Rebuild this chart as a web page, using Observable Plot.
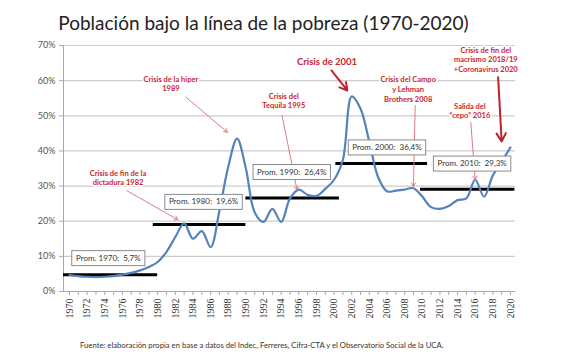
<!DOCTYPE html>
<html>
<head>
<meta charset="utf-8">
<script src="https://cdn.jsdelivr.net/npm/d3@7"></script>
<script src="https://cdn.jsdelivr.net/npm/@observablehq/plot@0.6"></script>
<style>
  body { margin:0; background:#fff; width:567px; height:357px; overflow:hidden; font-family: Lato, "Open Sans", sans-serif; }
  #title { position:absolute; left:0; top:13px; width:527px; text-align:center; font-size:19px; line-height:20px; color:#222; font-family: Lato, sans-serif; }
  #caption { position:absolute; left:80px; top:340px; font-size:7.7px; color:#333; white-space:nowrap; }
  #chart { position:absolute; left:0; top:38px; }
</style>
</head>
<body>
<div id="title">Población bajo la línea de la pobreza (1970-2020)</div>
<div id="chart"></div>
<div id="caption">Fuente: elaboración propia en base a datos del Indec, Ferreres, Cifra-CTA y el Observatorio Social de la UCA.</div>
<script>
// ---- data ----
const years = d3.range(1970, 2021);
const poverty = [
  4.7, 4.4, 4.2, 4.1, 4.2, 4.4, 4.8, 5.3, 6.0, 7.0,
  8.4, 11.3, 15.5, 19.4, 15.0, 17.2, 12.6, 23.0, 35.5, 43.5,
  35.0, 22.5, 19.8, 23.5, 19.8, 26.5, 29.0, 27.5, 27.2, 29.2,
  31.8, 37.5, 55.5, 52.0, 42.5, 32.5, 28.5, 28.7, 29.0, 29.4,
  27.0, 24.0, 23.5, 24.3, 26.0, 26.5, 31.8, 27.0, 33.0, 37.0,
  41.0
];
const yTicks = [0, 10, 20, 30, 40, 50, 60, 70];

// decade averages
const avgLabels = ["Prom. 1970:\u00a0 5,7%", "Prom. 1980:\u00a0 19,6%", "Prom. 1990:\u00a0 26,4%", "Prom. 2000:\u00a0 36,4%", "Prom. 2010:\u00a0 29,3%"];
const avgLevel = [4.8, 19.1, 26.6, 36.4, 29.1];
const avgStart = [1969.32, 1979.5, 1990.0, 2000.2, 2009.8];
const avgEnd = [1980.0, 1990.0, 2000.6, 2010.6, 2020.5];
const avgBoxX = [1974.4, 1985.2, 1995.2, 2006.0, 2015.65];
const avgBoxY = [9.5, 25.5, 34.0, 41.0, 36.4];

// crisis annotations
const annTexts = ["Crisis de fin de la\ndictadura 1982", "Crisis de la hiper\n1989", "Crisis del\nTequila 1995", "Crisis de 2001", "Crisis del Campo\ny Lehman\nBrothers 2008", "Salida del\n“cepo” 2016", "Crisis de fin del\nmacrismo 2018/19\n+Coronavirus 2020"];
const annX = [1975.5, 1981.5, 1994.3, 1999.2, 2008.4, 2015.4, 2017.2];
const annY = [32.5, 59.2, 54.4, 65.5, 57.7, 51.5, 66.1];
const annBig = [false, false, false, true, false, false, true];
const arrX1 = [1976.5, 1983.2, 1994.1, 1999.7, 2009.2, 2015.5, 2018.6];
const arrY1 = [28.7, 55.3, 50.1, 62.9, 52.9, 48.1, 61.0];
const arrX2 = [1982.3, 1987.9, 1995.8, 2001.5, 2009.0, 2016.0, 2019.0];
const arrY2 = [20.4, 45.3, 28.9, 57.2, 29.9, 31.8, 42.7];

// ---- tables ----
const series = years.map((y, i) => ({year: y, value: poverty[i]}));
const avgs = avgLabels.map((l, i) => ({label: l, level: avgLevel[i], x1: avgStart[i], x2: avgEnd[i], bx: avgBoxX[i], by: avgBoxY[i]}));
const anns = annTexts.map((t, i) => ({text: t, x: annX[i], y: annY[i], big: annBig[i], x1: arrX1[i], y1: arrY1[i], x2: arrX2[i], y2: arrY2[i]}));
const XMIN = 1969.32, XMAX = 2020.57;

const boxRender = (index, scales, values, dimensions, context, next) => {
  const g = next(index, scales, values, dimensions, context);
  const ns = "http://www.w3.org/2000/svg";
  for (const i of index) {
    const w = 4.3 * avgs[i].label.length, h = 15;
    const r = document.createElementNS(ns, "rect");
    r.setAttribute("x", values.x[i] - w / 2);
    r.setAttribute("y", values.y[i] - h / 2);
    r.setAttribute("width", w);
    r.setAttribute("height", h);
    r.setAttribute("fill", "white");
    r.setAttribute("stroke", "#8a8a8a");
    r.setAttribute("stroke-width", 1);
    g.insertBefore(r, g.firstChild);
  }
  return g;
};

const chart = Plot.plot({
  width: 567,
  height: 297,
  marginTop: 7,
  marginBottom: 44,
  marginLeft: 63,
  marginRight: 52,
  style: {fontFamily: "Lato, sans-serif", background: "white"},
  x: {domain: [XMIN, XMAX]},
  y: {domain: [0, 70]},
  marks: [
    Plot.ruleY(yTicks.filter(d => d > 0), {stroke: "#cdcdcd", strokeWidth: 1.2}),
    Plot.ruleY([0], {stroke: "#a8a8a8", strokeWidth: 1}),
    Plot.ruleX([XMIN], {y1: 0, y2: 70, stroke: "#a8a8a8", strokeWidth: 1}),
    Plot.axisY({ticks: yTicks, tickFormat: d => d + "%", tickSize: 4, tickPadding: 4, fontSize: 9, fill: "#555", stroke: "#a8a8a8"}),
    Plot.axisX({ticks: years, tickFormat: d => d % 2 === 0 ? String(d) : "", tickRotate: -90, tickSize: 4, tickPadding: 3, fontSize: 10, fontFamily: "Liberation Serif, serif", fill: "#333", stroke: "#a8a8a8"}),
    Plot.ruleY(avgs, {y: "level", x1: "x1", x2: "x2", stroke: "black", strokeWidth: 3}),
    Plot.line(series, {x: "year", y: "value", stroke: "#5283bd", strokeWidth: 2.2, curve: "catmull-rom"}),
    Plot.arrow(anns.filter(d => !d.big), {x1: "x1", y1: "y1", x2: "x2", y2: "y2", stroke: "#e27b84", strokeWidth: 1, headLength: 6}),
    Plot.arrow(anns.filter(d => d.big), {x1: "x1", y1: "y1", x2: "x2", y2: "y2", stroke: "#c0222c", strokeWidth: 2, headLength: 7}),
    Plot.text(anns.filter(d => !d.big), {x: "x", y: "y", text: "text", fill: "#c9262e", fontWeight: "bold", fontSize: 7.5, lineHeight: 1.3, stroke: "white", strokeWidth: 3}),
    Plot.text(anns.filter(d => d.big), {x: "x", y: "y", text: "text", fill: "#c9262e", fontWeight: "bold", fontSize: d => d.text.includes("\n") ? 7.5 : 9.5, lineHeight: 1.3, stroke: "white", strokeWidth: 3}),
    Plot.text(avgs, {x: "bx", y: "by", text: "label", fontSize: 8, fill: "#333", render: boxRender})
  ]
});
document.getElementById("chart").appendChild(chart);
</script>
</body>
</html>
